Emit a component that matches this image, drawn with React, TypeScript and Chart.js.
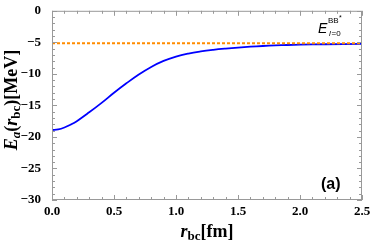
import React, { useEffect, useRef } from "react";
import { Chart, registerables } from "chart.js";
Chart.register(...registerables);

const rValues = [0, 0.05, 0.1, 0.15, 0.2, 0.3, 0.4, 0.5, 0.6, 0.7, 0.8, 0.9, 1.0, 1.1, 1.2, 1.3, 1.4, 1.5, 1.6, 1.7, 1.8, 1.9, 2.0, 2.2, 2.5];
const energyValues = [-18.9, -18.8, -18.5, -18.05, -17.5, -16.1, -14.6, -13.0, -11.5, -10.1, -8.9, -7.95, -7.25, -6.78, -6.45, -6.2, -6.0, -5.83, -5.69, -5.58, -5.49, -5.42, -5.37, -5.3, -5.25];
const thresholdX = [0, 2.5];
const thresholdY = [-5.15, -5.15];
const xTicks = [0, 0.5, 1.0, 1.5, 2.0, 2.5];
const yTicks = [0, -5, -10, -15, -20, -25, -30];

const framePlugin = {
  id: "framePlugin",
  afterDraw(chart: any) {
    const { ctx, chartArea: a, scales } = chart;
    const xs = scales.x, ys = scales.y;
    ctx.save();
    ctx.strokeStyle = "#999999";
    ctx.lineWidth = 1;
    ctx.strokeRect(a.left + 0.5, a.top + 0.5, a.right - a.left - 1, a.bottom - a.top - 1);
    ctx.beginPath();
    for (let i = 0; i <= 25; i++) {
      const v = i / 10;
      const px = Math.round(xs.getPixelForValue(v)) + 0.5;
      const len = i % 5 === 0 ? 5 : 3;
      ctx.moveTo(px, a.bottom); ctx.lineTo(px, a.bottom - len);
      ctx.moveTo(px, a.top); ctx.lineTo(px, a.top + len);
    }
    for (let i = 0; i <= 30; i++) {
      const v = -i;
      const py = Math.round(ys.getPixelForValue(v)) + 0.5;
      const len = i % 5 === 0 ? 5 : 3;
      ctx.moveTo(a.left, py); ctx.lineTo(a.left + len, py);
      ctx.moveTo(a.right, py); ctx.lineTo(a.right - len, py);
    }
    ctx.stroke();

    const drawSeq = (parts: any[], startX: number, baseY: number) => {
      let x = startX;
      for (const p of parts) {
        ctx.font = p.font;
        ctx.fillText(p.t, x, baseY + (p.dy || 0));
        x += ctx.measureText(p.t).width;
      }
    };
    const measureSeq = (parts: any[]) => {
      let w = 0;
      for (const p of parts) { ctx.font = p.font; w += ctx.measureText(p.t).width; }
      return w;
    };
    ctx.fillStyle = "#000";
    ctx.textBaseline = "alphabetic";
    ctx.textAlign = "left";
    const big = "bold 18px 'Liberation Serif'";
    const bigI = "italic bold 18px 'Liberation Serif'";
    const sub = "bold 13px 'Liberation Serif'";
    const subI = "italic bold 13px 'Liberation Serif'";

    // x title
    const xParts = [
      { t: "r", font: bigI },
      { t: "bc", font: sub, dy: 3 },
      { t: "[fm]", font: big },
    ];
    const xw = measureSeq(xParts);
    drawSeq(xParts, (a.left + a.right) / 2 - xw / 2, 237);

    // y title
    const yParts = [
      { t: "E", font: bigI },
      { t: "a", font: subI, dy: 3 },
      { t: "(", font: big },
      { t: "r", font: bigI },
      { t: "bc", font: sub, dy: 3 },
      { t: ")[MeV]", font: big },
    ];
    const yw = measureSeq(yParts);
    ctx.save();
    ctx.translate(17, 100);
    ctx.rotate(-Math.PI / 2);
    drawSeq(yParts, -yw / 2, 0);
    ctx.restore();

    // (a)
    ctx.font = "bold 16px 'Liberation Sans'";
    ctx.fillText("(a)", 321, 189);

    // E^{BB*}_{l=0}
    ctx.font = "italic 14px 'Liberation Sans'";
    ctx.fillText("E", 318, 33);
    ctx.font = "8px 'Liberation Sans'";
    ctx.fillText("BB", 328, 23);
    ctx.font = "7px 'Liberation Sans'";
    ctx.fillText("*", 339, 20);
    ctx.font = "italic 8px 'Liberation Sans'";
    ctx.fillText("l", 329, 36);
    ctx.font = "8px 'Liberation Sans'";
    ctx.fillText("=0", 331.5, 36);
    ctx.restore();
  },
};

export default function App() {
  const ref = useRef<HTMLCanvasElement>(null);
  useEffect(() => {
    const chart = new Chart(ref.current!, {
      type: "line",
      data: {
        datasets: [
          {
            data: thresholdX.map((x, i) => ({ x, y: thresholdY[i] })),
            borderColor: "#ff8c00",
            borderWidth: 2,
            borderDash: [3, 2],
            pointRadius: 0,
          },
          {
            data: rValues.map((x, i) => ({ x, y: energyValues[i] })),
            borderColor: "#0000ff",
            borderWidth: 1.8,
            pointRadius: 0,
            tension: 0.4,
          },
        ],
      },
      options: {
        animation: false,
        responsive: false,
        maintainAspectRatio: false,
        layout: { padding: { top: 7, right: 12, left: 0, bottom: 0 } },
        plugins: { legend: { display: false }, tooltip: { enabled: false } },
        scales: {
          x: {
            type: "linear",
            min: 0,
            max: 2.5,
            afterBuildTicks: (s: any) => { s.ticks = xTicks.map((v) => ({ value: v })); },
            afterFit: (s: any) => { s.height = 44; },
            grid: { display: false },
            border: { display: false },
            ticks: {
              callback: (v: any) => Number(v).toFixed(1),
              font: { family: "'Liberation Serif'", weight: "bold", size: 13 },
              color: "#000",
              padding: -4,
              maxRotation: 0,
            },
          },
          y: {
            min: -30,
            max: 0,
            afterBuildTicks: (s: any) => { s.ticks = yTicks.map((v) => ({ value: v })); },
            afterFit: (s: any) => { s.width = 52; },
            grid: { display: false },
            border: { display: false },
            ticks: {
              callback: (v: any) => (Number(v) < 0 ? "\u2212" + Math.abs(Number(v)) : String(v)),
              font: { family: "'Liberation Serif'", weight: "bold", size: 13 },
              color: "#000",
              padding: 3,
            },
          },
        },
      },
      plugins: [framePlugin],
    } as any);
    return () => chart.destroy();
  }, []);
  return (
    <div style={{ position: "fixed", left: 0, top: 0, width: 374, height: 244, background: "#fff" }}>
      <canvas ref={ref} width={374} height={244} style={{ width: 374, height: 244 }} />
    </div>
  );
}
